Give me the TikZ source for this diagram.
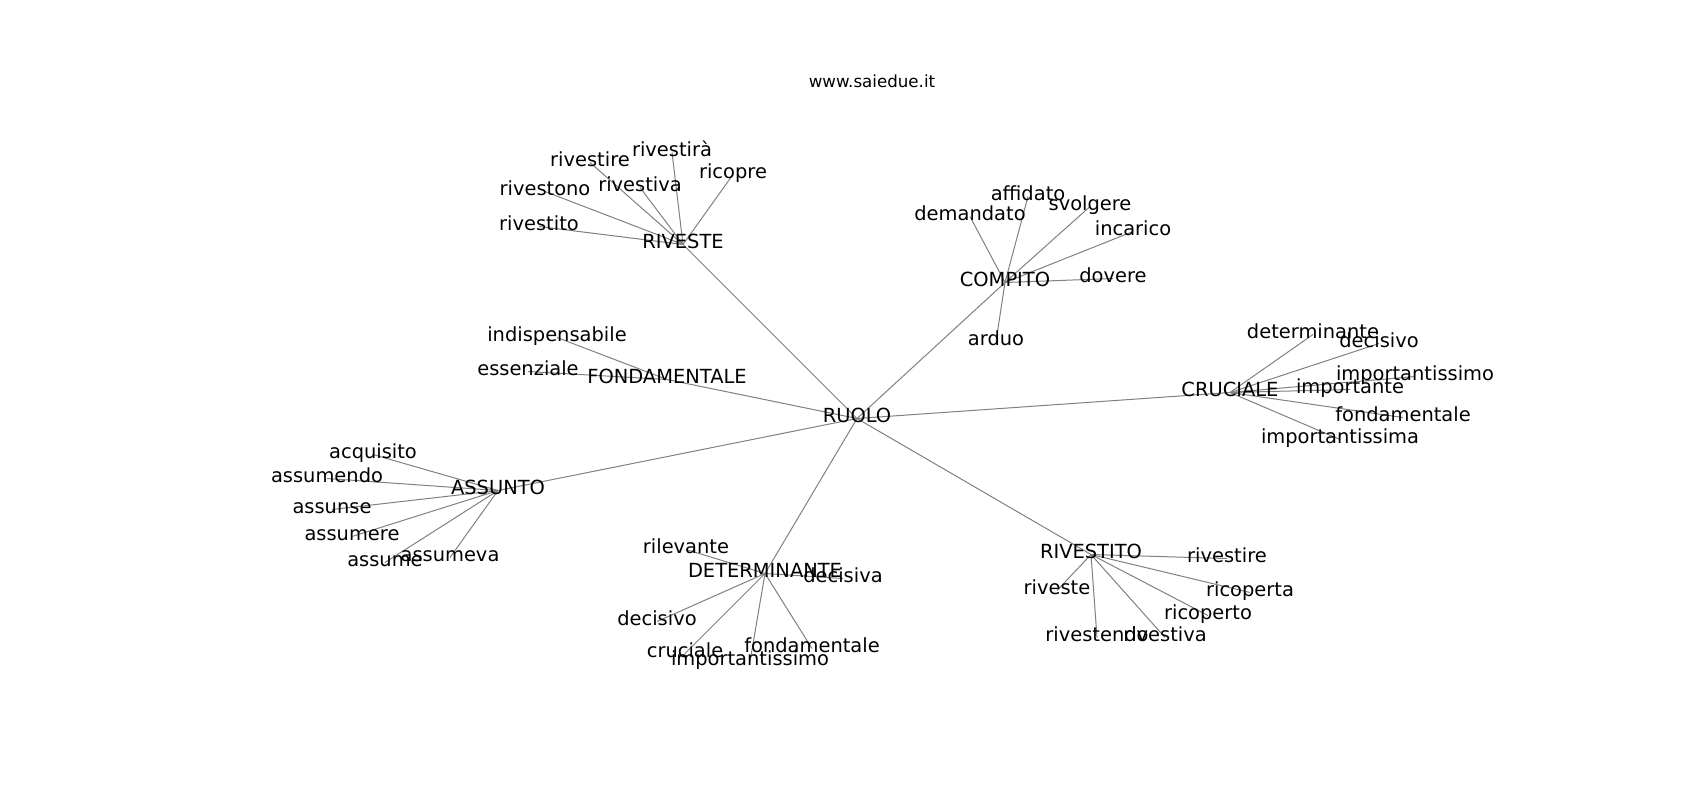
\documentclass[tikz,border=0pt]{standalone}
\usepackage{fontspec}
\setmainfont{DejaVu Sans}
\usetikzlibrary{backgrounds}

\begin{document}
\begin{tikzpicture}[x=0.72pt, y=-0.72pt,
	word/.style={inner sep=0pt, text height=0.76em, text depth=0.24em,
		font=\fontsize{14}{16}\selectfont},
	link/.style={draw=gray, line width=0.72pt}]
	\useasboundingbox (0,0) rectangle (1700,800);

	\node[inner sep=0pt, font=\fontsize{12}{14}\selectfont] (title) at (872,81.5) {www.saiedue.it};

	% centre
	\node[word] (ruolo) at (857,418.5) {RUOLO};

	% hubs
	\node[word] (riveste) at (683,244.5) {RIVESTE};
	\node[word] (compito) at (1005,282.5) {COMPITO};
	\node[word] (cruciale) at (1230,392.5) {CRUCIALE};
	\node[word] (fondamentale) at (667,379.5) {FONDAMENTALE};
	\node[word] (assunto) at (498,490.5) {ASSUNTO};
	\node[word] (determinante) at (765,573.5) {DETERMINANTE};
	\node[word] (rivestito) at (1091,554.5) {RIVESTITO};

	% riveste
	\node[word] (rs-rivestire) at (590,162.5) {rivestire};
	\node[word] (rs-rivestira) at (672,152.5) {rivestirà};
	\node[word] (rs-ricopre) at (733,174.5) {ricopre};
	\node[word] (rs-rivestono) at (545,191.5) {rivestono};
	\node[word] (rs-rivestiva) at (640,187.5) {rivestiva};
	\node[word] (rs-rivestito) at (539,226.5) {rivestito};

	% compito
	\node[word] (cp-affidato) at (1028,196.5) {affidato};
	\node[word] (cp-demandato) at (970,216.5) {demandato};
	\node[word] (cp-svolgere) at (1090,206.5) {svolgere};
	\node[word] (cp-incarico) at (1133,231.5) {incarico};
	\node[word] (cp-dovere) at (1113,278.5) {dovere};
	\node[word] (cp-arduo) at (996,341.5) {arduo};

	% cruciale
	\node[word] (cr-determinante) at (1313,334.5) {determinante};
	\node[word] (cr-decisivo) at (1379,343.5) {decisivo};
	\node[word] (cr-importantissimo) at (1415,376.5) {importantissimo};
	\node[word] (cr-importante) at (1350,389.5) {importante};
	\node[word] (cr-fondamentale) at (1403,417.5) {fondamentale};
	\node[word] (cr-importantissima) at (1340,439.5) {importantissima};

	% fondamentale
	\node[word] (fd-indispensabile) at (557,337.5) {indispensabile};
	\node[word] (fd-essenziale) at (528,371.5) {essenziale};

	% assunto
	\node[word] (as-acquisito) at (373,454.5) {acquisito};
	\node[word] (as-assumendo) at (327,478.5) {assumendo};
	\node[word] (as-assunse) at (332,509.5) {assunse};
	\node[word] (as-assumere) at (352,536.5) {assumere};
	\node[word] (as-assume) at (385,562.5) {assume};
	\node[word] (as-assumeva) at (450,557.5) {assumeva};

	% determinante
	\node[word] (dt-rilevante) at (686,549.5) {rilevante};
	\node[word] (dt-decisiva) at (843,578.5) {decisiva};
	\node[word] (dt-decisivo) at (657,621.5) {decisivo};
	\node[word] (dt-cruciale) at (685,653.5) {cruciale};
	\node[word] (dt-importantissimo) at (750,661.5) {importantissimo};
	\node[word] (dt-fondamentale) at (812,648.5) {fondamentale};

	% rivestito
	\node[word] (rt-rivestire) at (1227,558.5) {rivestire};
	\node[word] (rt-riveste) at (1057,590.5) {riveste};
	\node[word] (rt-ricoperta) at (1250,592.5) {ricoperta};
	\node[word] (rt-ricoperto) at (1208,615.5) {ricoperto};
	\node[word] (rt-rivestendo) at (1097,637.5) {rivestendo};
	\node[word] (rt-rivestiva) at (1165,637.5) {rivestiva};

	\begin{scope}[on background layer]
		\foreach \hub in {riveste, compito, cruciale, fondamentale, assunto, determinante, rivestito}
			\draw[link] (ruolo.center) -- (\hub.center);
		\foreach \leaf in {rivestire, rivestira, ricopre, rivestono, rivestiva, rivestito}
			\draw[link] (riveste.center) -- (rs-\leaf.center);
		\foreach \leaf in {affidato, demandato, svolgere, incarico, dovere, arduo}
			\draw[link] (compito.center) -- (cp-\leaf.center);
		\foreach \leaf in {determinante, decisivo, importantissimo, importante, fondamentale, importantissima}
			\draw[link] (cruciale.center) -- (cr-\leaf.center);
		\foreach \leaf in {indispensabile, essenziale}
			\draw[link] (fondamentale.center) -- (fd-\leaf.center);
		\foreach \leaf in {acquisito, assumendo, assunse, assumere, assume, assumeva}
			\draw[link] (assunto.center) -- (as-\leaf.center);
		\foreach \leaf in {rilevante, decisiva, decisivo, cruciale, importantissimo, fondamentale}
			\draw[link] (determinante.center) -- (dt-\leaf.center);
		\foreach \leaf in {rivestire, riveste, ricoperta, ricoperto, rivestendo, rivestiva}
			\draw[link] (rivestito.center) -- (rt-\leaf.center);
	\end{scope}
\end{tikzpicture}
\end{document}
